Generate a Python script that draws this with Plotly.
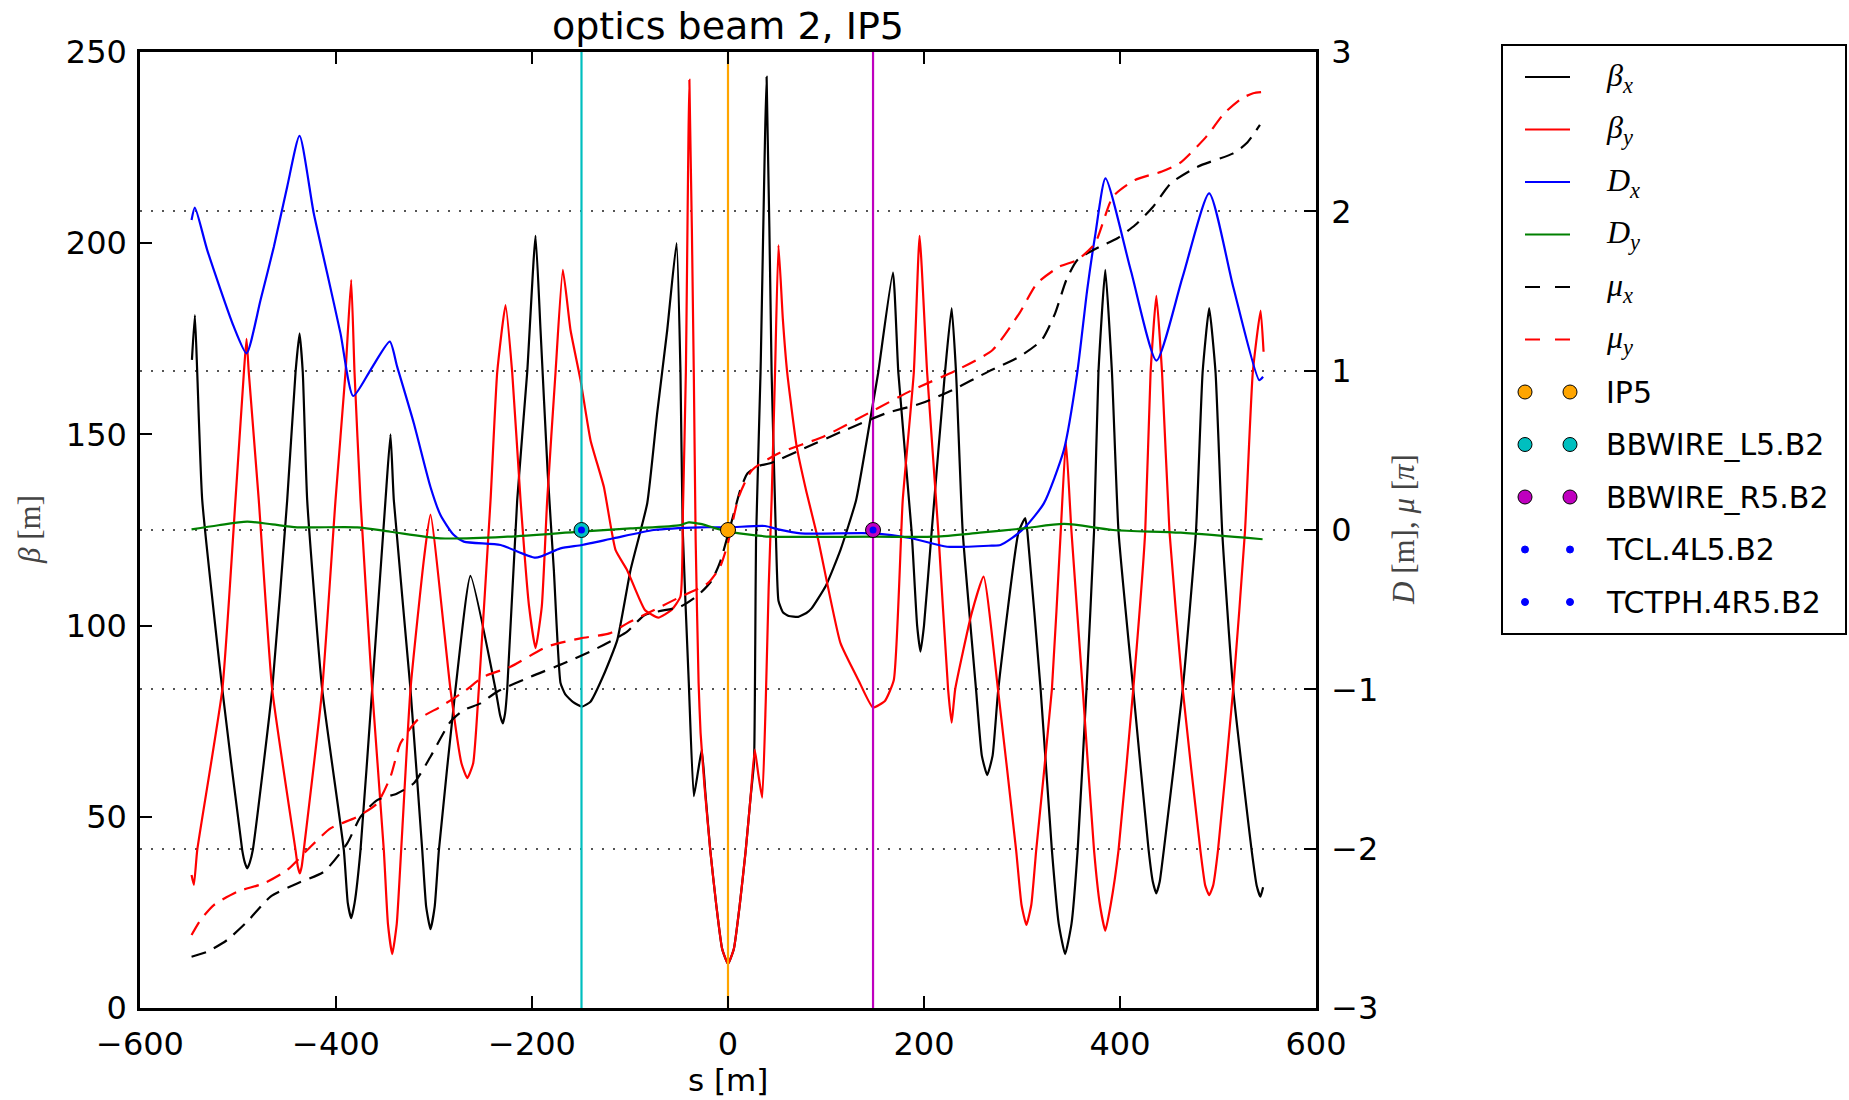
import plotly.graph_objects as go

# ---------------- data ----------------
s_betx = [-547.0, -544.0, -541.6, -536.5, -516.0, -495.7, -493.0, -490.6, -488.0, -484.9,
          -465.1, -449.8, -441.3, -437.2, -433.9, -429.4, -414.1, -392.0, -388.0, -384.5,
          -381.0, -375.0, -363.1, -349.5, -344.4, -341.0, -324.0, -312.0, -308.0, -303.6,
          -299.3, -295.0, -278.1, -262.8, -237.2, -232.5, -229.8, -227.5, -225.3, -215.1,
          -204.9, -196.4, -191.3, -184.0, -177.7, -170.9, -166.0, -158.0, -149.0, -140.3,
          -127.0, -113.0, -99.5, -82.4, -72.3, -62.0, -52.5, -48.5, -46.2,
          -40.0, -34.9, -30.5, -26.7, -23.0, -18.0, -12.0, -6.0, 0.0, 6.0,
          12.0, 18.0, 23.0, 26.5, 27.8, 28.6, 33.2, 39.4, 44.5, 49.0,
          51.5, 56.0, 62.0, 71.7, 80.0, 85.3, 100.0, 114.8, 130.7, 147.4,
          153.3, 168.3, 173.8, 187.4, 193.0, 196.4, 200.0, 207.8, 221.4, 228.2,
          232.7, 239.5, 253.1, 259.0, 264.5, 270.0, 275.8, 296.5, 303.3, 305.5,
          319.0, 330.5, 337.5, 344.0, 350.5, 356.8, 365.8, 373.5, 378.0, 385.0,
          391.8, 398.5, 413.5, 429.2, 433.5, 437.0, 440.5, 444.7, 464.0, 477.5,
          484.3, 491.0, 497.5, 504.3, 515.5, 534.3, 539.5, 543.3, 546.0]
betx = [169.5, 181.2, 166.2, 132.8, 83.3, 41.3, 38.0, 36.5, 38.0, 41.3,
        83.3, 132.8, 166.2, 176.4, 166.2, 132.8, 83.3, 41.3, 27.5, 23.5,
        27.5, 41.3, 83.3, 132.8, 150.0, 132.8, 83.3, 41.3, 26.5, 20.6,
        26.5, 41.3, 83.3, 113.0, 83.3, 76.5, 74.4, 77.0, 83.3, 132.8,
        166.2, 201.9, 177.3, 140.0, 114.5, 85.0, 82.0, 80.0, 78.8, 80.1,
        87.0, 96.2, 114.5, 132.0, 155.5, 177.3, 200.0, 166.2, 125.0,
        85.0, 55.4, 62.0, 67.6, 56.0, 41.0, 27.0, 15.5, 11.5, 15.5,
        27.0, 41.0, 55.0, 64.0, 95.0, 122.4, 166.2, 243.5, 166.2, 122.4,
        106.5, 103.5, 102.5, 102.3, 103.3, 104.5, 110.5, 119.8, 132.8, 157.3,
        166.2, 192.3, 166.2, 124.5, 100.0, 93.2, 100.0, 124.5, 166.2, 183.0,
        166.2, 124.5, 83.3, 66.0, 60.9, 66.0, 83.3, 124.5, 128.1, 124.5,
        83.3, 41.3, 22.0, 14.1, 22.0, 41.3, 83.3, 124.5, 166.2, 193.0,
        166.2, 124.5, 83.3, 41.3, 33.0, 30.0, 33.0, 41.3, 83.3, 124.5,
        166.2, 183.0, 166.2, 124.5, 83.3, 41.3, 32.0, 29.1, 31.6]

s_bety = [-547.4, -545.0, -541.6, -516.0, -502.6, -494.0, -491.3, -489.0, -478.8, -465.1,
          -441.3, -439.0, -436.9, -435.0, -432.9, -414.1, -400.5, -390.3, -384.5, -381.1,
          -375.0, -363.1, -351.2, -347.0, -342.6, -338.0, -333.5, -324.0, -310.0, -303.6,
          -283.2, -272.0, -266.0, -260.0, -254.3, -242.3, -235.5, -227.0, -220.2, -211.7,
          -203.0, -196.4, -190.0, -184.5, -176.0, -168.5, -160.7, -150.5, -140.3, -126.7,
          -114.8, -102.9, -84.8, -71.1, -57.6, -48.5, -46.0, -43.0, -39.4, -34.9, -33.0,
          -30.0, -28.0, -24.0, -18.0, -12.0, -6.0, 0.0, 6.0, 12.0, 18.0,
          23.0, 27.3, 31.0, 34.9, 38.5, 41.5, 44.5, 48.0, 51.5, 56.0,
          60.4, 70.0, 80.0, 92.1, 114.8, 133.0, 147.9, 160.1, 169.2, 178.3,
          189.6, 195.5, 203.2, 214.6, 224.6, 228.2, 231.8, 248.6, 260.8, 275.5,
          294.0, 299.5, 304.5, 309.5, 314.5, 330.5, 339.5, 344.8, 350.5, 362.0,
          373.5, 379.5, 385.0, 390.5, 398.5, 413.5, 425.7, 431.2, 437.1, 442.9,
          450.5, 464.0, 482.0, 487.0, 491.0, 495.0, 500.0, 515.5, 527.5, 535.5,
          543.5, 546.5]
bety = [34.8, 32.2, 41.3, 83.3, 132.8, 166.2, 175.0, 166.2, 132.8, 83.3,
        41.3, 37.0, 35.2, 37.0, 41.3, 83.3, 132.8, 166.2, 190.4, 166.2,
        132.8, 83.3, 41.3, 22.0, 14.1, 22.0, 41.3, 83.3, 118.0, 129.0,
        83.3, 64.0, 60.1, 64.0, 83.3, 132.8, 166.2, 183.8, 166.2, 132.8,
        105.0, 94.1, 105.0, 132.8, 166.2, 193.0, 177.3, 164.2, 148.5, 136.3,
        119.8, 114.5, 104.1, 102.1, 104.1, 107.6, 130.0, 166.2, 242.7, 166.2, 122.4,
        85.0, 72.0, 58.0, 41.0, 27.0, 15.5, 11.5, 15.5, 27.0, 41.0,
        55.0, 67.6, 61.0, 55.0, 80.0, 110.0, 132.8, 166.2, 199.5, 180.0,
        166.2, 147.0, 135.0, 122.4, 95.4, 85.8, 78.6, 80.3, 85.8, 132.8,
        166.2, 201.9, 166.2, 124.5, 83.3, 74.6, 83.3, 103.2, 112.8, 83.3,
        41.3, 27.0, 21.7, 27.0, 41.3, 83.3, 124.5, 148.2, 124.5, 83.3,
        41.3, 27.0, 20.2, 27.0, 41.3, 83.3, 124.5, 166.2, 186.2, 166.2,
        124.5, 83.3, 41.3, 32.0, 29.5, 32.0, 41.3, 83.3, 124.5, 166.2,
        182.4, 171.6]

s_dx = [-547.4, -544.0, -531.4, -504.3, -491.3, -477.0, -463.4, -449.8, -437.2, -422.7,
        -409.0, -395.4, -382.5, -364.8, -345.1, -337.6, -320.6, -303.6, -293.4, -280.0,
        -269.6, -232.0, -196.4, -171.0, -148.8, -116.5, -75.7, -28.0, 1.4, 37.7, 51.3,
        74.0, 147.9, 187.4, 223.6, 269.0, 278.0, 290.0, 303.6, 322.3, 342.7,
        356.3, 366.5, 375.0, 385.2, 411.0, 437.2, 464.0, 491.0, 515.5, 542.0, 546.0]
dx = [1.946, 2.023, 1.757, 1.276, 1.109, 1.444, 1.778, 2.155, 2.473, 1.988,
      1.611, 1.234, 0.841, 1.004, 1.182, 1.025, 0.670, 0.270, 0.094, -0.030,
      -0.073, -0.094, -0.174, -0.115, -0.094, -0.052, 0.000, 0.017, 0.017, 0.025, 0.004,
      -0.021, -0.021, -0.052, -0.105, -0.098, -0.094, -0.050, 0.021, 0.167, 0.502,
      0.983, 1.506, 1.862, 2.207, 1.630, 1.063, 1.590, 2.113, 1.527, 0.941, 0.962]

s_dy = [-547.4, -520.0, -490.6, -465.0, -439.6, -378.4, -344.4, -293.4, -225.0, -150.5,
        -99.5, -48.5, -40.0, -28.0, -15.0, 0.0, 30.0, 43.0,
        149.0, 211.0, 257.0, 302.0, 343.0, 393.0, 462.0, 545.5]
dy = [0.004, 0.030, 0.052, 0.035, 0.017, 0.017, -0.011, -0.052, -0.042, -0.010,
      0.010, 0.031, 0.048, 0.038, 0.015, -0.010, -0.035, -0.042,
      -0.042, -0.042, -0.017, 0.010, 0.038, 0.000, -0.017, -0.058]

s_mux = [-547.4, -531.4, -511.0, -490.6, -466.8, -439.6, -412.4, -388.6, -375.0, -358.0,
         -337.6, -320.6, -303.6, -283.2, -269.6, -252.6, -235.5, -201.5, -167.5, -133.5,
         -102.9, -84.8, -48.5, -30.3, -16.6, -8.0, 0.0, 6.0, 13.0, 20.0,
         30.0, 43.0, 74.0, 120.0, 161.0, 197.3, 229.2, 265.6, 297.4, 320.2,
         333.8, 345.2, 356.5, 379.2, 397.4, 415.5, 433.8, 451.9, 479.2, 515.5,
         529.1, 542.8]
mux = [-2.678, -2.647, -2.573, -2.458, -2.301, -2.218, -2.145, -1.967, -1.800, -1.695,
       -1.653, -1.590, -1.423, -1.203, -1.130, -1.088, -1.015, -0.921, -0.837, -0.742,
       -0.638, -0.533, -0.481, -0.408, -0.317, -0.200, -0.030, 0.105, 0.260, 0.356,
       0.400, 0.419, 0.502, 0.628, 0.732, 0.795, 0.879, 0.994, 1.088, 1.193,
       1.360, 1.569, 1.695, 1.778, 1.831, 1.914, 2.029, 2.176, 2.280, 2.364,
       2.427, 2.542]

s_muy = [-547.4, -538.3, -524.7, -500.8, -473.7, -449.8, -426.0, -405.6, -378.4, -358.0,
         -344.4, -334.2, -317.1, -293.4, -269.6, -249.2, -221.9, -184.5, -150.5, -121.0,
         -102.9, -75.4, -48.5, -20.8, -8.0, 0.0, 11.0, 24.6, 51.8, 97.3,
         142.9, 188.3, 233.6, 270.0, 297.3, 315.4, 338.2, 356.4, 374.5, 392.8,
         415.4, 442.8, 460.9, 488.1, 506.4, 524.5, 535.9, 544.0]
muy = [-2.542, -2.448, -2.354, -2.270, -2.218, -2.134, -1.988, -1.873, -1.800, -1.716,
       -1.548, -1.339, -1.193, -1.109, -1.015, -0.921, -0.858, -0.732, -0.680, -0.649,
       -0.586, -0.502, -0.419, -0.335, -0.230, -0.080, 0.209, 0.377, 0.481, 0.586,
       0.732, 0.879, 1.004, 1.130, 1.360, 1.548, 1.653, 1.695, 1.799, 2.092,
       2.197, 2.250, 2.302, 2.469, 2.616, 2.710, 2.741, 2.748]

# elements
elem_names = ["IP5", "BBWIRE_L5.B2", "BBWIRE_R5.B2"]
elem_s = [0.0, -149.5, 148.0]
elem_colors = ["#FFA500", "#00BFBF", "#BF00BF"]
coll_names = ["TCL.4L5.B2", "TCTPH.4R5.B2"]
coll_s = [-149.5, 148.0]
coll_color = "#0000FF"

X_TICKS = [-600, -400, -200, 0, 200, 400, 600]
Y1_TICKS = [0, 50, 100, 150, 200, 250]
Y2_TICKS = [-3, -2, -1, 0, 1, 2, 3]
Y1_RANGE = [0, 250]
Y2_RANGE = [-3, 3]

# ---------------- figure ----------------
W, H = 1849, 1100
L, R, T, B = 140, 1316, 52, 1008   # plot area in pixels


def px(x):
    return (x - L) / (R - L)


def py(y):
    return (B - y) / (B - T)


fig = go.Figure()
LW = 2.2
SM = 0.45
fig.add_trace(go.Scatter(x=s_betx, y=betx, mode="lines",
                         line=dict(color="black", width=LW, shape="spline", smoothing=SM),
                         yaxis="y", showlegend=False))
fig.add_trace(go.Scatter(x=s_bety, y=bety, mode="lines",
                         line=dict(color="#FF0000", width=LW, shape="spline", smoothing=SM),
                         yaxis="y", showlegend=False))
for s, c in zip(elem_s, elem_colors):
    fig.add_trace(go.Scatter(x=[s, s], y=Y1_RANGE, mode="lines", line=dict(color=c, width=LW),
                             yaxis="y", showlegend=False, hoverinfo="skip"))

fig.add_trace(go.Scatter(x=s_dx, y=dx, mode="lines",
                         line=dict(color="#0000FF", width=LW, shape="spline", smoothing=0.6),
                         yaxis="y2", showlegend=False))
fig.add_trace(go.Scatter(x=s_dy, y=dy, mode="lines",
                         line=dict(color="#008000", width=LW, shape="spline", smoothing=0.8),
                         yaxis="y2", showlegend=False))
fig.add_trace(go.Scatter(x=s_mux, y=mux, mode="lines",
                         line=dict(color="black", width=LW, dash="15px,9px",
                                   shape="spline", smoothing=0.6),
                         yaxis="y2", showlegend=False))
fig.add_trace(go.Scatter(x=s_muy, y=muy, mode="lines",
                         line=dict(color="#FF0000", width=LW, dash="15px,9px",
                                   shape="spline", smoothing=0.6),
                         yaxis="y2", showlegend=False))
for s, c, n in zip(elem_s, elem_colors, elem_names):
    fig.add_trace(go.Scatter(x=[s], y=[0], mode="markers", name=n,
                             marker=dict(color=c, size=15, line=dict(color="black", width=1)),
                             yaxis="y2", showlegend=False))
fig.add_trace(go.Scatter(x=coll_s, y=[0] * len(coll_s), mode="markers",
                         marker=dict(color=coll_color, size=7), yaxis="y2", showlegend=False))

tickfont = dict(family="DejaVu Sans", size=32, color="black")
fig.update_layout(
    width=W, height=H,
    margin=dict(l=L, r=W - R, t=T, b=H - B, pad=0),
    paper_bgcolor="white", plot_bgcolor="white",
    title=dict(text="optics beam 2, IP5", x=0.5, xref="paper", xanchor="center",
               y=1 - 26 / H, yref="container", yanchor="middle",
               font=dict(family="DejaVu Sans", size=38, color="black")),
    xaxis=dict(range=[-600, 600], tickmode="array", tickvals=X_TICKS, ticks="inside",
               ticklen=12, tickwidth=1.5, tickcolor="black", showline=True,
               linecolor="black", linewidth=2.5, mirror="ticks", showgrid=False,
               zeroline=False, tickfont=tickfont, ticklabelstandoff=6),
    yaxis=dict(range=Y1_RANGE, tickmode="array", tickvals=Y1_TICKS, ticks="inside",
               ticklen=12, tickwidth=1.5, tickcolor="black", showline=True,
               linecolor="black", linewidth=2.5, mirror=False, showgrid=False,
               zeroline=False, tickfont=tickfont, ticklabelstandoff=4),
    yaxis2=dict(range=Y2_RANGE, tickmode="array", tickvals=Y2_TICKS, overlaying="y",
                side="right", ticks="inside", ticklen=12, tickwidth=1.5, tickcolor="black",
                showline=True, linecolor="black", linewidth=2.5, showgrid=True,
                gridcolor="#555555", gridwidth=1.5, griddash="2px,9px", zeroline=False,
                tickfont=tickfont, ticklabelstandoff=6),
    showlegend=False,
)

# axis titles
fig.add_annotation(text="s [m]", x=px(727.5), y=py(1080), xref="paper", yref="paper",
                   showarrow=False, xanchor="center", yanchor="middle",
                   font=dict(family="DejaVu Sans", size=31, color="black"))
fig.add_annotation(text="<i>β</i> [m]", x=px(29), y=py(530), xref="paper", yref="paper",
                   showarrow=False, textangle=-90, xanchor="center", yanchor="middle",
                   font=dict(family="Liberation Serif", size=31, color="#444444"))
fig.add_annotation(text="<i>D</i> [m], <i>μ</i> [<i>π</i>]", x=px(1403), y=py(530),
                   xref="paper", yref="paper", showarrow=False, textangle=-90,
                   xanchor="center", yanchor="middle",
                   font=dict(family="Liberation Serif", size=31, color="#444444"))

# ---------------- legend (drawn by hand to mimic the reference) ----------------
legend_items = [
    ("<i>β</i><sub><i>x</i></sub>", "line", "black", "solid"),
    ("<i>β</i><sub><i>y</i></sub>", "line", "#FF0000", "solid"),
    ("<i>D</i><sub><i>x</i></sub>", "line", "#0000FF", "solid"),
    ("<i>D</i><sub><i>y</i></sub>", "line", "#008000", "solid"),
    ("<i>μ</i><sub><i>x</i></sub>", "line", "black", "dash"),
    ("<i>μ</i><sub><i>y</i></sub>", "line", "#FF0000", "dash"),
]
for n, c in zip(elem_names, elem_colors):
    legend_items.append((n, "big", c, None))
for n in coll_names:
    legend_items.append((n, "small", coll_color, None))

fig.add_shape(type="rect", xref="paper", yref="paper", x0=px(1502), x1=px(1846),
              y0=py(634), y1=py(45), line=dict(color="black", width=2), fillcolor="white",
              layer="above")
hx0, hx1, tx = 1525, 1570, 1604
for i, (lab, kind, col, dash) in enumerate(legend_items):
    yc = 77 + i * 52.5
    if kind == "line":
        fig.add_shape(type="line", xref="paper", yref="paper", x0=px(hx0), x1=px(hx1),
                      y0=py(yc), y1=py(yc), layer="above",
                      line=dict(color=col, width=2.2,
                                dash="15px,15px" if dash == "dash" else "solid"))
        font = dict(family="Liberation Serif", size=32, color="black")
    else:
        r = 7 if kind == "big" else 3.5
        for hx in (hx0, hx1):
            fig.add_shape(type="circle", xref="paper", yref="paper",
                          xsizemode="pixel", ysizemode="pixel",
                          xanchor=px(hx), yanchor=py(yc), x0=-r, x1=r, y0=-r, y1=r,
                          fillcolor=col, layer="above",
                          line=dict(color="black" if kind == "big" else col, width=1))
        font = dict(family="DejaVu Sans", size=30, color="black")
    fig.add_annotation(text=lab, x=px(tx), y=py(yc), xref="paper", yref="paper",
                       showarrow=False, xanchor="left", yanchor="middle", font=font)

fig.write_html("out.html")
